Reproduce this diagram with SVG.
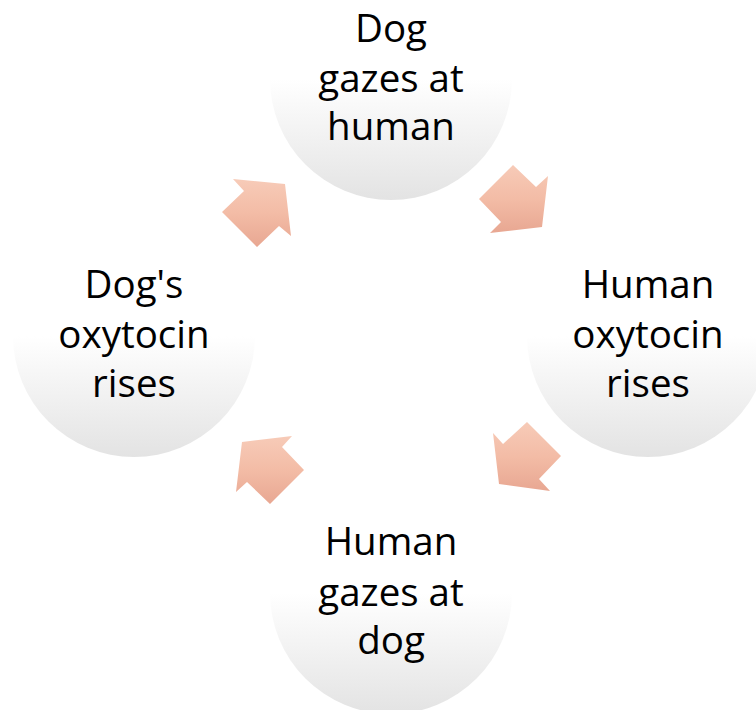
<svg xmlns="http://www.w3.org/2000/svg" width="756" height="710" viewBox="0 0 756 710">
<defs>
<linearGradient id="cg" x1="0" y1="0" x2="0" y2="1">
<stop offset="0" stop-color="#ffffff"/>
<stop offset="0.5" stop-color="#ffffff"/>
<stop offset="1" stop-color="#e3e3e3"/>
</linearGradient>
<linearGradient id="ag" x1="0" y1="0" x2="0" y2="1">
<stop offset="0" stop-color="#f7cbb8"/>
<stop offset="0.5" stop-color="#f3bca6"/>
<stop offset="1" stop-color="#e8a792"/>
</linearGradient>
<style>
.c{fill:url(#cg);}
.a{fill:url(#ag);}
.t{font-family:"Open Sans","Liberation Sans",sans-serif;font-size:38.5px;fill:#000;text-anchor:middle;}
</style>
</defs>
<rect width="756" height="710" fill="#ffffff"/>
<g id="connectors">
<polygon class="a" points="222,212 244,191 233,179 285,184 291,236 279,226 257,247"/>
<polygon class="a" points="479,199 513,165 536,187 548,176 542,227 490,233 501,222"/>
<polygon class="a" points="527,422 561,456 539,479 550,491 499,484 493,433 503,444"/>
<polygon class="a" points="292,436 242,442 236,492 247,482 270,504 304,470 282,447"/>
</g>
<g id="node-top">
<circle class="c" cx="391" cy="79" r="121"/>
<text class="t" x="391" y="42">Dog</text>
<text class="t" x="391" y="92">gazes at</text>
<text class="t" x="391" y="140">human</text>
</g>
<g id="node-right">
<circle class="c" cx="648" cy="336" r="121"/>
<text class="t" x="648" y="298">Human</text>
<text class="t" x="648" y="348">oxytocin</text>
<text class="t" x="648" y="397">rises</text>
</g>
<g id="node-bottom">
<circle class="c" cx="391" cy="593" r="121"/>
<text class="t" x="391" y="555">Human</text>
<text class="t" x="391" y="606">gazes at</text>
<text class="t" x="391" y="654">dog</text>
</g>
<g id="node-left">
<circle class="c" cx="134" cy="336" r="121"/>
<text class="t" x="134" y="298">Dog's</text>
<text class="t" x="134" y="348">oxytocin</text>
<text class="t" x="134" y="397">rises</text>
</g>
</svg>
